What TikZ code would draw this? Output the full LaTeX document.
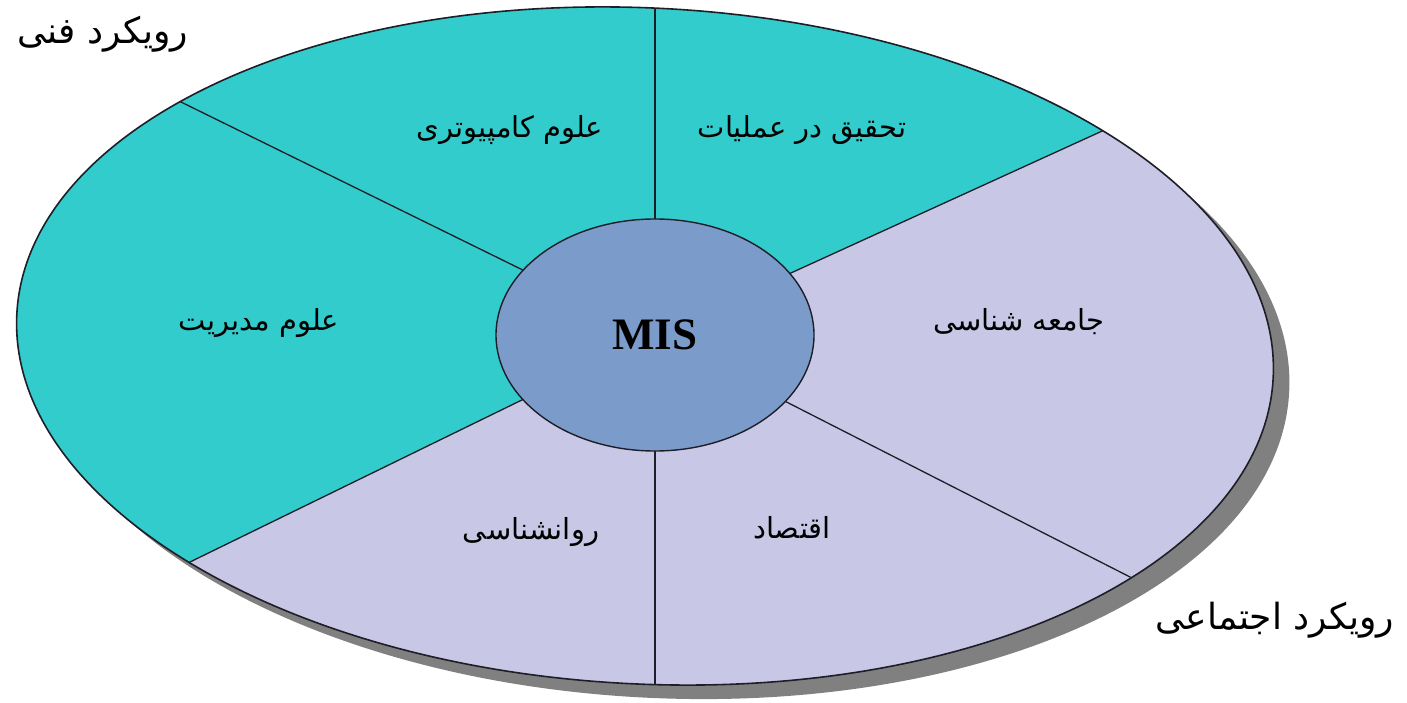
\documentclass[tikz,border=0pt]{standalone}
\usepackage{fontspec}
\setmainfont{Liberation Serif}
\newfontfamily\fa[Script=Arabic]{DejaVu Sans}
\TeXXeTstate=1
\usetikzlibrary{shapes.geometric}
\definecolor{tealc}{RGB}{51,204,204}
\definecolor{lavc}{RGB}{200,200,230}
\definecolor{innerc}{RGB}{123,155,203}
\definecolor{shadowc}{RGB}{128,128,128}
\definecolor{linec}{RGB}{30,30,40}
\tikzset{
  lbl/.style={font=\fa\fontsize{29}{34}\selectfont, text=black, inner sep=0pt},
  corner/.style={font=\fa\fontsize{36}{42}\selectfont, text=black, inner sep=0pt},
  spoke/.style={draw=linec, line width=1.3pt},
  outerrot/.style={rotate around={-2.9:(645,346)}},
}
\begin{document}
\begin{tikzpicture}[x=1pt,y=-1pt]
\useasboundingbox (0,0) rectangle (1407,703);
% shadow
\fill[shadowc, rotate around={-2.9:(661,360)}] (661,360) ellipse [x radius=629, y radius=338];
% base (lavender)
\fill[lavc, outerrot] (645,346) ellipse [x radius=629, y radius=338];
% teal sectors and spokes
\begin{scope}
  \clip[outerrot] (645,346) ellipse [x radius=629, y radius=338];
  \fill[tealc] (655,335) -- (1990,-274) -- (1990,-800) -- (-900,-800) -- (-900,1016) -- (-740,1016) -- cycle;
  \coordinate (c) at (655,335);
  \coordinate (fUL) at (-761,-361);
  \coordinate (fUR) at (1990,-274);
  \coordinate (fLL) at (-740,1016);
  \coordinate (fLR) at (2080,1061);
  \coordinate (fT) at (655,-800);
  \coordinate (fB) at (655,1500);
  \foreach \f in {fUL,fUR,fLL,fLR,fT,fB} \draw[spoke] (c) -- (\f);
\end{scope}
\draw[linec, line width=1.6pt, outerrot] (645,346) ellipse [x radius=629, y radius=338];
% center
\node[ellipse, draw=linec, line width=1.4pt, fill=innerc, minimum width=318pt, minimum height=232pt, inner sep=0pt,
      font=\fontsize{45}{50}\selectfont\bfseries] (mis) at (655,335) {MIS};
% labels
\node[lbl] (cs) at (510,130) {\beginR علوم کامپیوتری\endR};
\node[lbl] (or) at (802,130) {\beginR تحقیق در عملیات\endR};
\node[lbl] (ms) at (259,323) {\beginR علوم مدیریت\endR};
\node[lbl] (soc) at (1019,322) {\beginR جامعه شناسی\endR};
\node[lbl] (psy) at (531,532) {\beginR روانشناسی\endR};
\node[lbl] (eco) at (792,528) {\beginR اقتصاد\endR};
\node[corner] (tech) at (103,34) {\beginR رویکرد فنی\endR};
\node[corner] (social) at (1275,620) {\beginR رویکرد اجتماعی\endR};
\end{tikzpicture}
\end{document}
